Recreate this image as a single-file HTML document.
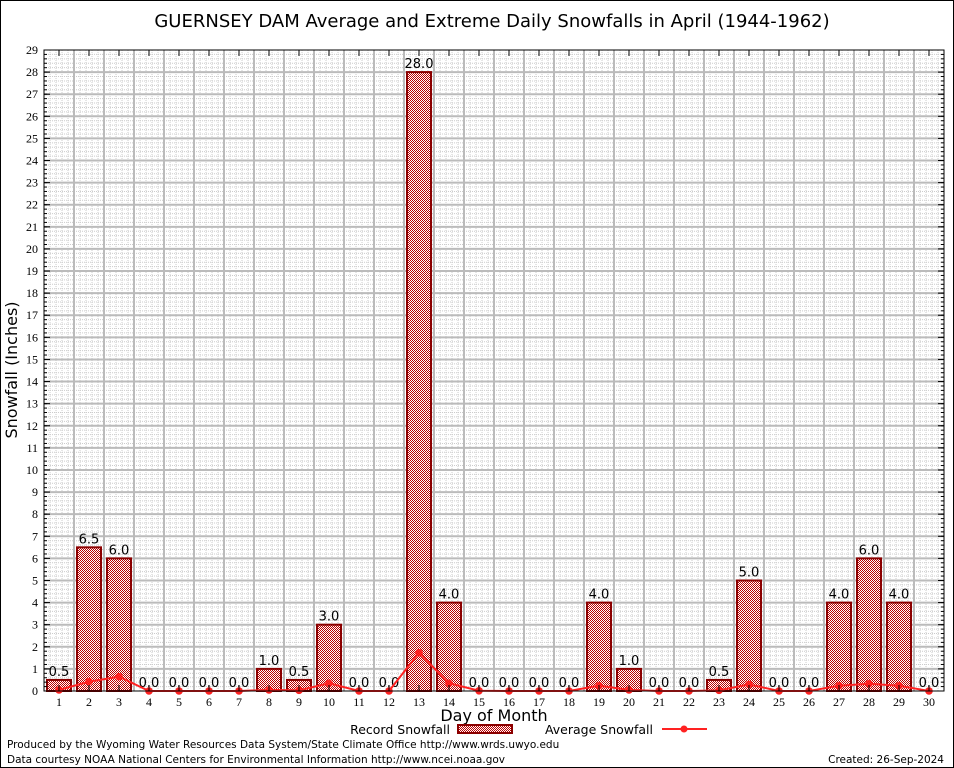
<!DOCTYPE html>
<html><head><meta charset="utf-8"><style>
body{margin:0;background:#fff}
svg{display:block;font-family:"DejaVu Sans","Liberation Sans",sans-serif}
</style></head><body>
<svg id="c" width="954" height="768" viewBox="0 0 954 768">
<defs>
<pattern id="hatch" width="2" height="2" patternUnits="userSpaceOnUse">
<rect width="2" height="2" fill="#fff"/><rect width="1" height="1" fill="#b00"/><rect x="1" y="1" width="1" height="1" fill="#b00"/>
</pattern>
</defs>
<rect x="0.5" y="0.5" width="953" height="767" fill="#fff" stroke="#000"/>
<text x="492" y="27" font-size="18" text-anchor="middle">GUERNSEY DAM Average and Extreme Daily Snowfalls in April (1944-1962)</text>
<g id="grid"></g>
<g id="bars"></g>
<g id="avg"></g>
<g id="axes"></g>
<text transform="translate(17,370) rotate(-90)" font-size="16" text-anchor="middle">Snowfall (Inches)</text>
<text x="494" y="721" font-size="16" text-anchor="middle">Day of Month</text>
<g>
<g>
<text x="450" y="734" font-size="12.5" text-anchor="end">Record Snowfall</text>
<rect x="458" y="725" width="54" height="8" fill="url(#hatch)" stroke="#8b0000" stroke-width="2"/>
</g>
<g>
<text x="653" y="734" font-size="12.5" text-anchor="end">Average Snowfall</text>
<line x1="662" y1="729" x2="707" y2="729" stroke="#f22" stroke-width="2"/>
<circle cx="684" cy="729" r="3.5" fill="#f22"/>
</g>
</g>
<text x="7" y="748" font-size="10.5">Produced by the Wyoming Water Resources Data System/State Climate Office http://www.wrds.uwyo.edu</text>
<text x="7" y="763" font-size="10.5">Data courtesy NOAA National Centers for Environmental Information http://www.ncei.noaa.gov</text>
<text x="944" y="763" font-size="10.5" text-anchor="end">Created: 26-Sep-2024</text>
</svg>
<script>
const days=[1,2,3,4,5,6,7,8,9,10,11,12,13,14,15,16,17,18,19,20,21,22,23,24,25,26,27,28,29,30];
const recordSnow=[0.5,6.5,6.0,0,0,0,0,1.0,0.5,3.0,0,0,28.0,4.0,0,0,0,0,4.0,1.0,0,0,0.5,5.0,0,0,4.0,6.0,4.0,0];
const avgSnow=[0.05,0.42,0.65,0,0,0,0,0.05,0.03,0.35,0,0,1.73,0.35,0.01,0,0,0,0.24,0.05,0,0,0.03,0.3,0,0,0.24,0.33,0.24,0];
const yTicks=[0,1,2,3,4,5,6,7,8,9,10,11,12,13,14,15,16,17,18,19,20,21,22,23,24,25,26,27,28,29];
const L=44,R=944,T=50,B=691,yMax=29;
const x=d=>L+(d-0.5)*(R-L)/30;
const y=v=>B-v*(B-T)/yMax;
const NS="http://www.w3.org/2000/svg";
function mk(tag,attrs,parent,txt){const e=document.createElementNS(NS,tag);for(const k in attrs)e.setAttribute(k,attrs[k]);if(txt!==undefined)e.textContent=txt;parent.appendChild(e);return e;}
const grid=document.getElementById('grid'),bars=document.getElementById('bars'),avg=document.getElementById('avg'),axes=document.getElementById('axes');
for(let i=0;i<=30*5;i++){const xx=L+i*(R-L)/150;mk('line',{x1:xx,x2:xx,y1:T,y2:B,stroke:'#ccc','stroke-dasharray':'1,1','stroke-width':1},grid);}
for(let i=0;i<=yMax*5;i++){const yy=y(i/5);mk('line',{x1:L,x2:R,y1:yy,y2:yy,stroke:'#ccc','stroke-dasharray':'1,1','stroke-width':1},grid);}
for(let i=1;i<30;i++){const xx=L+i*(R-L)/30;mk('line',{x1:xx,x2:xx,y1:T,y2:B,stroke:'#bbb','stroke-width':2},grid);}
yTicks.forEach(t=>{if(t>0&&t<yMax)mk('line',{x1:L,x2:R,y1:y(t),y2:y(t),stroke:'#bbb','stroke-width':2},grid);});
const bw=24;
days.forEach((d,i)=>{const v=recordSnow[i];
 if(v>0){const r=mk('rect',{x:x(d)-bw/2,y:y(v),width:bw,height:y(0)-y(v),fill:'url(#hatch)',stroke:'#8b0000','stroke-width':2},bars);
 
 }
 const t=mk('text',{x:x(d),y:y(v)-4,'font-size':13,'text-anchor':'middle'},bars,v.toFixed(1));
 
 
});
const pts=days.map((d,i)=>x(d)+','+y(avgSnow[i])).join(' ');
const pl=mk('polyline',{points:pts,fill:'none',stroke:'#f22','stroke-width':2},avg);


days.forEach((d,i)=>{const c=mk('circle',{cx:x(d),cy:y(avgSnow[i]),r:3.8,fill:'#f22'},avg);
 
 });
mk('rect',{x:L,y:T,width:R-L,height:B-T,fill:'none',stroke:'#000','stroke-width':1},axes);
yTicks.forEach(t=>{mk('line',{x1:L,x2:L+6,y1:y(t),y2:y(t),stroke:'#000'},axes);mk('line',{x1:R,x2:R-6,y1:y(t),y2:y(t),stroke:'#000'},axes);
 const tl=mk('text',{x:L-6,y:y(t)+4,'font-size':12,'text-anchor':'end','font-family':'Liberation Serif, serif'},axes,String(t));
 
 });
for(let i=0;i<=yMax*5;i++){const yy=y(i/5);mk('line',{x1:L,x2:L+3,y1:yy,y2:yy,stroke:'#000'},axes);mk('line',{x1:R,x2:R-3,y1:yy,y2:yy,stroke:'#000'},axes);}
days.forEach(d=>{mk('line',{x1:x(d),x2:x(d),y1:B,y2:B-6,stroke:'#000'},axes);mk('line',{x1:x(d),x2:x(d),y1:T,y2:T+6,stroke:'#000'},axes);
 const tl=mk('text',{x:x(d),y:B+15,'font-size':12,'text-anchor':'middle','font-family':'Liberation Serif, serif'},axes,String(d));
 
 });
</script>
</body></html>
